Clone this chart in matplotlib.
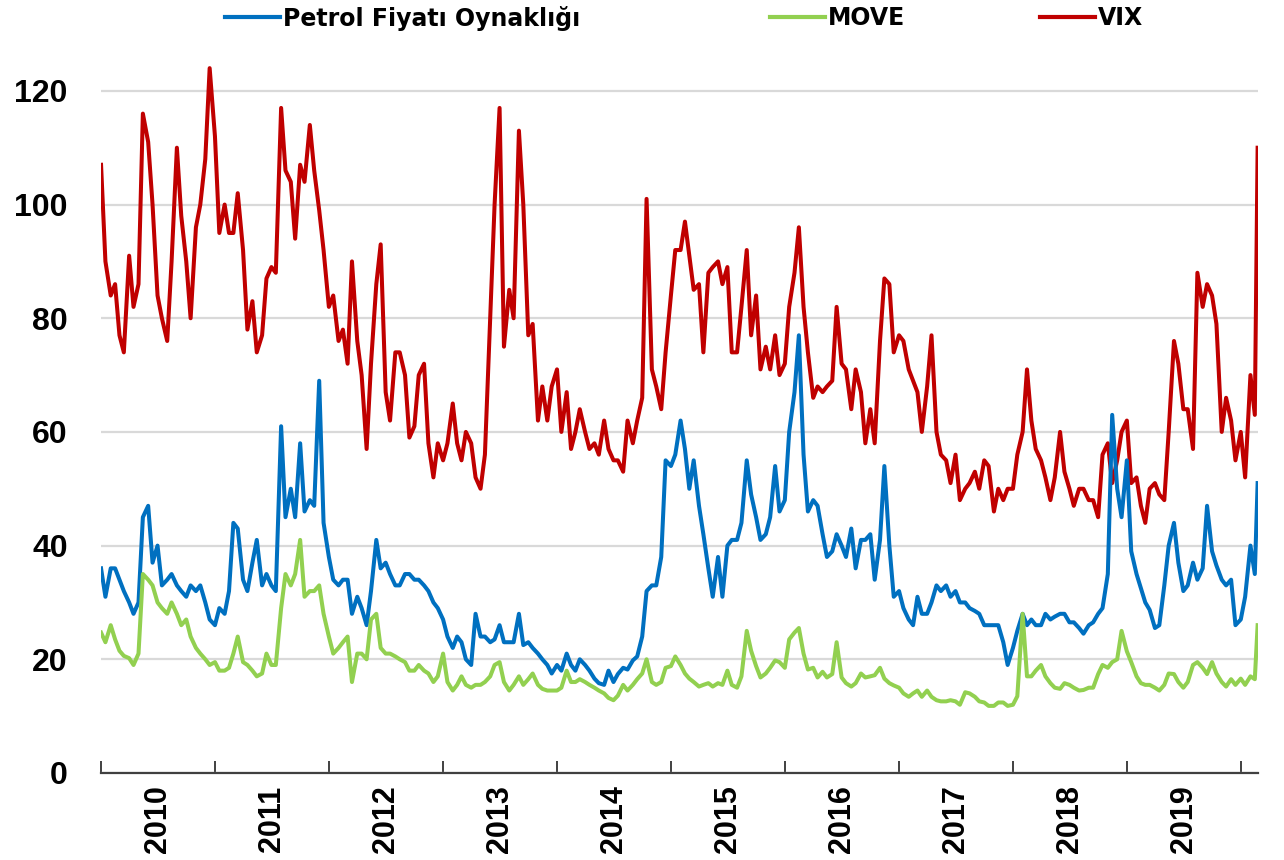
import matplotlib
matplotlib.use('Agg')
import matplotlib.pyplot as plt
from matplotlib.lines import Line2D
import pandas as pd

# semi-monthly readings, last point is the late-Feb 2020 jump
dates = pd.date_range('2010-01-01', '2020-02-15', freq='SMS').append(pd.DatetimeIndex(['2020-02-24']))

petrol = [
    36, 31, 36, 36, 34, 32, 30, 28, 30, 45, 47, 37, 40, 33, 34, 35, 33, 32, 31, 33, 32, 33, 30, 27,  # 2010
    26, 29, 28, 32, 44, 43, 34, 32, 37, 41, 33, 35, 33, 32, 61, 45, 50, 45, 58, 46, 48, 47, 69, 44,  # 2011
    38, 34, 33, 34, 34, 28, 31, 29, 26, 32, 41, 36, 37, 35, 33, 33, 35, 35, 34, 34, 33, 32, 30, 29,  # 2012
    27, 24, 22, 24, 23, 20, 19, 28, 24, 24, 23, 23.5, 26, 23, 23, 23, 28, 22.5, 23, 22, 21, 20, 19, 17.5,  # 2013
    19, 18, 21, 19, 18, 20, 19, 18, 16.6, 15.8, 15.5, 18, 16, 17.4, 18.5, 18.2, 19.8, 20.5, 24, 32, 33, 33, 38, 55,  # 2014
    54, 56, 62, 57, 50, 55, 47, 42, 36, 31, 38, 31, 40, 41, 41, 44, 55, 49, 45, 41, 42, 45, 54, 46,  # 2015
    48, 60, 67, 77, 56, 46, 48, 47, 42, 38, 39, 42, 40, 38, 43, 36, 41, 41, 42, 34, 41, 54, 40, 31,  # 2016
    32, 29, 27, 26, 31, 28, 28, 30, 33, 32, 33, 31, 32, 30, 30, 29, 28.5, 28, 26, 26, 26, 26, 23, 19,  # 2017
    22, 25, 28, 26, 27, 26, 26, 28, 27, 27.5, 28, 28, 26.5, 26.5, 25.5, 24.5, 26, 26.5, 28, 29, 35, 63, 50, 45,  # 2018
    55, 39, 35, 32.5, 30, 28.7, 25.5, 26, 33, 40, 44, 37, 32, 33, 37, 34, 36, 47, 39, 36.5, 34, 33, 34, 26,  # 2019
    27, 31, 40, 35, 51,  # 2020
]

move = [
    24.7, 23, 26, 23.5, 21.5, 20.6, 20.2, 19, 21, 35, 34, 33, 30, 29, 28, 30, 28, 26, 27, 24, 22, 21, 20, 19,  # 2010
    19.5, 18, 18, 18.5, 21, 24, 19.5, 19, 18, 17, 17.5, 21, 19, 19, 29, 35, 33, 35, 41, 31, 32, 32, 33, 28,  # 2011
    24, 21, 22, 23, 24, 16, 21, 21, 20, 27, 28, 22, 21, 21, 20.5, 20, 19.5, 18, 18, 19, 18, 17.5, 16, 17,  # 2012
    21, 16, 14.5, 15.5, 17, 15.5, 15, 15.5, 15.5, 16, 17, 19, 19.5, 16, 14.5, 15.5, 17, 15.5, 16.5, 17.5, 15.5, 14.8, 14.5, 14.5,  # 2013
    14.5, 15, 18, 16, 16, 16.5, 16, 15.5, 15, 14.5, 14, 13.2, 12.8, 13.6, 15.5, 14.5, 15.5, 16.5, 17.5, 20, 16, 15.5, 16, 18.5,  # 2014
    18.8, 20.5, 19, 17.5, 16.6, 16, 15.2, 15.5, 15.8, 15.2, 15.8, 15.5, 18, 15.5, 15, 17, 25, 21.5, 18.8, 16.8, 17.5, 18.5, 19.8, 19.5,  # 2015
    18.5, 23.5, 24.7, 25.5, 21, 18.2, 18.5, 16.8, 17.8, 16.8, 17.4, 23, 16.8, 15.8, 15.2, 15.8, 17.5, 16.8, 17, 17.2, 18.5, 16.6, 15.8, 15.4,  # 2016
    15, 14, 13.4, 14, 14.5, 13.4, 14.5, 13.4, 12.8, 12.6, 12.6, 12.8, 12.6, 12, 14.2, 14, 13.4, 12.6, 12.4, 11.8, 11.8, 12.4, 12.4, 11.8,  # 2017
    12, 13.5, 28, 17, 17, 18, 19, 17, 15.8, 15, 14.8, 15.8, 15.5, 15, 14.5, 14.6, 15, 15, 17.4, 19, 18.5, 19.5, 20, 25,  # 2018
    21.4, 19.5, 17, 15.8, 15.5, 15.5, 15, 14.5, 15.5, 17.5, 17.4, 16, 15, 16, 19, 19.5, 18.5, 17.4, 19.5, 17.5, 16, 15.2, 16.5, 15.5,  # 2019
    16.6, 15.5, 17, 16.5, 26,  # 2020
]

vix = [
    107, 90, 84, 86, 77, 74, 91, 82, 86, 116, 111, 100, 84, 80, 76, 90, 110, 98, 90, 80, 96, 100, 108, 124,  # 2010
    112, 95, 100, 95, 95, 102, 92, 78, 83, 74, 77, 87, 89, 88, 117, 106, 104, 94, 107, 104, 114, 106, 99, 92,  # 2011
    82, 84, 76, 78, 72, 90, 76, 70, 57, 72, 86, 93, 67, 62, 74, 74, 70, 59, 61, 70, 72, 58, 52, 58,  # 2012
    55, 58, 65, 58, 55, 60, 58, 52, 50, 56, 80, 100, 117, 75, 85, 80, 113, 100, 77, 79, 62, 68, 62, 68,  # 2013
    71, 60, 67, 57, 60, 64, 60, 57, 58, 56, 62, 57, 55, 55, 53, 62, 58, 62, 66, 101, 71, 68, 64, 74,  # 2014
    84, 92, 92, 97, 91, 85, 86, 74, 88, 89, 90, 86, 89, 74, 74, 82, 92, 77, 84, 71, 75, 71, 77, 70,  # 2015
    72, 82, 88, 96, 82, 74, 66, 68, 67, 68, 69, 82, 72, 71, 64, 71, 67, 58, 64, 58, 76, 87, 86, 74,  # 2016
    77, 76, 71, 69, 67, 60, 68, 77, 60, 56, 55, 51, 56, 48, 50, 51, 53, 50, 55, 54, 46, 50, 48, 50,  # 2017
    50, 56, 60, 71, 62, 57, 55, 52, 48, 52, 60, 53, 50, 47, 50, 50, 48, 48, 45, 56, 58, 51, 55, 60,  # 2018
    62, 51, 52, 47, 44, 50, 51, 49, 48, 60, 76, 72, 64, 64, 57, 88, 82, 86, 84, 79, 60, 66, 62, 55,  # 2019
    60, 52, 70, 63, 110,  # 2020
]

years = list(range(2010, 2020))
series_names = ['Petrol Fiyatı Oynaklığı', 'MOVE', 'VIX']
colors = {'Petrol Fiyatı Oynaklığı': '#0070C0', 'MOVE': '#92D050', 'VIX': '#C00000'}

num_font = ['Liberation Sans', 'DejaVu Sans']

fig = plt.figure(figsize=(12.84, 8.6), dpi=100)
ax = fig.add_axes([0.0787, 0.1012, 0.901, 0.846])

ax.plot(dates, vix, color=colors['VIX'], lw=2.9, zorder=3)
ax.plot(dates, petrol, color=colors['Petrol Fiyatı Oynaklığı'], lw=2.9, zorder=4)
ax.plot(dates, move, color=colors['MOVE'], lw=2.9, zorder=5)

ax.set_ylim(0, 128)
ax.set_xlim(pd.Timestamp('2010-01-01'), pd.Timestamp('2020-02-25'))

ax.set_yticks(range(0, 121, 20))
ax.set_yticklabels([str(v) for v in range(0, 121, 20)], fontfamily=num_font,
                   fontweight='bold', fontsize=23)
ax.yaxis.grid(True, color='#d9d9d9', lw=1.6)
ax.set_axisbelow(True)

for side in ['left', 'right', 'top']:
    ax.spines[side].set_visible(False)
ax.spines['bottom'].set_color('#404040')
ax.spines['bottom'].set_linewidth(1.6)
ax.spines['bottom'].set_zorder(6)

# year boundaries carry the tick marks, labels sit mid-year
ax.set_xticks([pd.Timestamp(f'{y}-01-01') for y in range(2010, 2021)])
ax.set_xticklabels([])
ax.set_xticks([pd.Timestamp(f'{y}-07-02') for y in years], minor=True)
ax.set_xticklabels([str(y) for y in years], minor=True, rotation=90,
                   fontfamily=num_font, fontweight='bold', fontsize=22)
ax.tick_params(axis='x', which='major', direction='in', length=9, width=1.4, colors='#404040')
ax.tick_params(axis='x', which='minor', length=0, pad=9)
ax.tick_params(axis='y', length=0, pad=24)

# legend entries spread across the top
leg_x = [0.1752, 0.5997, 0.81]
for name, x in zip(series_names, leg_x):
    h = Line2D([], [], color=colors[name], lw=3)
    fig.legend(handles=[h], labels=[name], loc='center left', bbox_to_anchor=(x, 0.979),
               frameon=False, handlelength=2.33, handletextpad=0.12, borderpad=0,
               borderaxespad=0, prop={'family': 'DejaVu Sans', 'weight': 'bold', 'size': 17})

fig.savefig('out.png', dpi=100, facecolor='white')
